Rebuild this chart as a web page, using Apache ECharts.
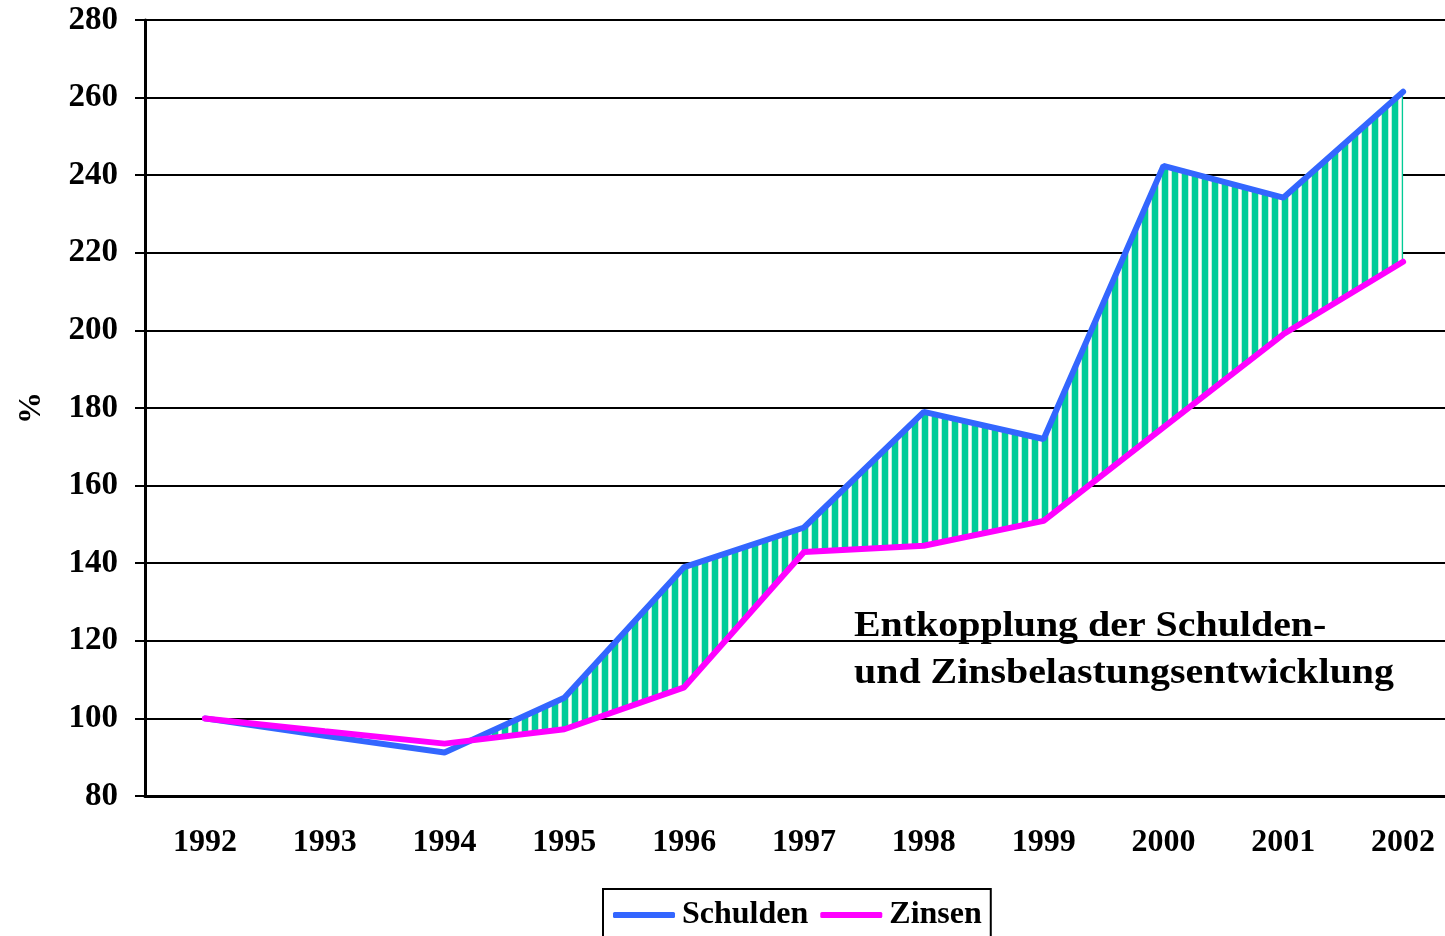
<!DOCTYPE html>
<html>
	<head>
		<meta charset="UTF-8">
		<title>Schulden und Zinsen</title>
		<script type="text/javascript" src="https://cdn.jsdelivr.net/npm/echarts@6/dist/echarts.min.js"></script>
		<style>
			html, body { margin: 0; padding: 0; background: #fff; }
		</style>
	</head>
	<body>
		<div id="main" style="height:936px;width:1445px"></div>
	</body>
</html>
<script>
    // Daten (Index 1992 = 100)
    var years = ['1992', '1993', '1994', '1995', '1996', '1997', '1998', '1999', '2000', '2001', '2002'];
    var schulden = [100, 95.5, 91.2, 105.3, 139, 149.2, 179, 172, 242.4, 234.2, 261.5];
    var zinsen = [100, 96.7, 93.5, 97.2, 108, 142.9, 144.5, 150.9, 175, 199, 217.7];
    var yTicks = [80, 100, 120, 140, 160, 180, 200, 220, 240, 260, 280];

    var serif = '"Liberation Serif", "Times New Roman", serif';

    // gestreiftes Muster fuer die Flaeche zwischen den Linien
    var stripe = document.createElement('canvas');
    stripe.width = 10;
    stripe.height = 10;
    var ctx = stripe.getContext('2d');
    ctx.fillStyle = '#ffffff';
    ctx.fillRect(0, 0, 10, 10);
    ctx.fillStyle = '#bff0dd';
    ctx.fillRect(1, 0, 1, 10);
    ctx.fillRect(8, 0, 1, 10);
    ctx.fillStyle = '#00cc99';
    ctx.fillRect(2, 0, 6, 10);

    // Flaeche nur dort, wo Schulden ueber Zinsen liegen (ein Polygon je Abschnitt)
    function renderGap(params, api) {
        var polys = [];
        var top = [], bottom = [];
        function close() {
            if (top.length > 1) {
                polys.push(top.concat(bottom.slice().reverse()));
            }
            top = [];
            bottom = [];
        }
        for (var i = 0; i < years.length; i++) {
            var s = api.coord([i, schulden[i]]);
            var z = api.coord([i, zinsen[i]]);
            var d = schulden[i] - zinsen[i];
            if (i > 0) {
                var dPrev = schulden[i - 1] - zinsen[i - 1];
                if ((dPrev < 0) !== (d < 0)) {
                    var sp = api.coord([i - 1, schulden[i - 1]]);
                    var t = dPrev / (dPrev - d);
                    var c = [sp[0] + (s[0] - sp[0]) * t, sp[1] + (s[1] - sp[1]) * t];
                    top.push(c);
                    bottom.push(c);
                    if (dPrev >= 0) close();
                }
            }
            if (d >= 0) {
                top.push(s);
                bottom.push(z);
            }
        }
        close();
        return {
            type: 'group',
            children: polys.map(function (p) {
                return {
                    type: 'polygon',
                    shape: { points: p },
                    style: { fill: { image: stripe, repeat: 'repeat' } }
                };
            })
        };
    }

    var myChart = echarts.init(document.getElementById('main'));
    var option = {
        backgroundColor: '#ffffff',
        animation: false,
        grid: {
            left: 145,
            top: 20,
            right: -18,
            bottom: 140,
            outerBoundsMode: 'none'
        },
        legend: {
            left: 603,
            top: 889,
            data: ['Schulden', 'Zinsen'],
            icon: 'roundRect',
            borderColor: '#000',
            borderWidth: 2,
            padding: [10, 9, 20, 10],
            itemGap: 12,
            itemWidth: 62,
            itemHeight: 6,
            textStyle: {
                fontFamily: serif,
                fontWeight: 'bold',
                fontSize: 32,
                color: '#000',
                padding: [0, 0, 0, 2]
            }
        },
        xAxis: {
            type: 'category',
            data: years,
            boundaryGap: true,
            axisLine: { lineStyle: { color: '#000', width: 3 } },
            axisTick: { length: 10, lineStyle: { color: '#000', width: 2 } },
            axisLabel: {
                margin: 31,
                color: '#000',
                fontFamily: serif,
                fontWeight: 'bold',
                fontSize: 32
            },
            splitLine: { show: false }
        },
        yAxis: {
            type: 'value',
            min: yTicks[0],
            max: yTicks[yTicks.length - 1],
            interval: yTicks[1] - yTicks[0],
            name: '%',
            nameLocation: 'middle',
            nameGap: 97,
            nameTextStyle: {
                color: '#000',
                fontFamily: serif,
                fontWeight: 'bold',
                fontSize: 32
            },
            axisLine: { show: true, lineStyle: { color: '#000', width: 3 } },
            axisTick: { show: true, length: 10, lineStyle: { color: '#000', width: 2 } },
            axisLabel: {
                margin: 27,
                color: '#000',
                fontFamily: serif,
                fontWeight: 'bold',
                fontSize: 33
            },
            splitLine: { show: true, lineStyle: { color: '#000', width: 2 } }
        },
        graphic: [{
            type: 'text',
            left: 854,
            top: 603,
            scaleX: 1.14,
            style: {
                text: 'Entkopplung der Schulden-\nund Zinsbelastungsentwicklung',
                font: 'bold 35px ' + serif,
                lineHeight: 47,
                fill: '#000'
            }
        }],
        series: [{
            name: 'gap',
            type: 'custom',
            z: 1,
            silent: true,
            renderItem: renderGap,
            data: [[0]]
        }, {
            name: 'Schulden',
            type: 'line',
            z: 3,
            data: schulden,
            symbol: 'none',
            color: '#3366ff',
            lineStyle: { color: '#3366ff', width: 6, cap: 'round' }
        }, {
            name: 'Zinsen',
            type: 'line',
            z: 4,
            data: zinsen,
            symbol: 'none',
            color: '#ff00ff',
            lineStyle: { color: '#ff00ff', width: 6, cap: 'round' }
        }]
    };

    myChart.setOption(option);
</script>
